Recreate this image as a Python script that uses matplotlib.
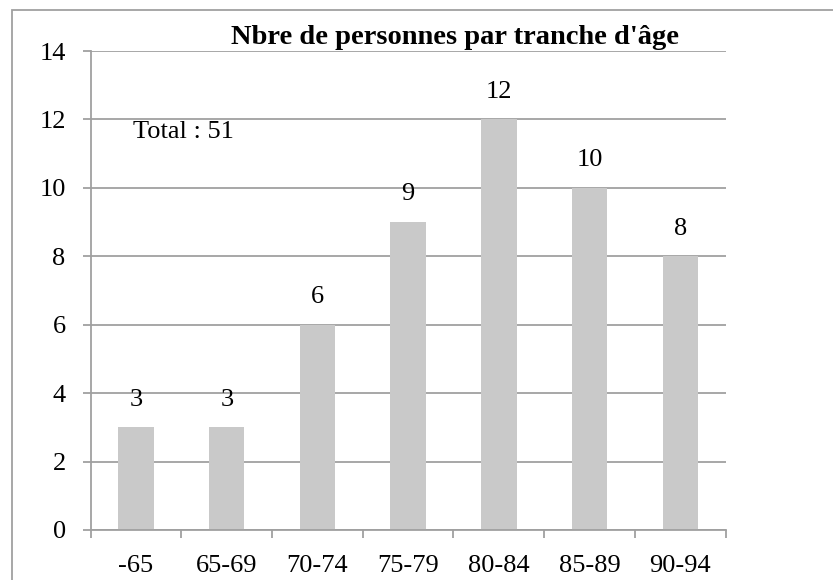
import numpy as np
import matplotlib.pyplot as plt
from matplotlib.patches import Rectangle

# data
tranches = ['-65', '65-69', '70-74', '75-79', '80-84', '85-89', '90-94']
personnes = [3, 3, 6, 9, 12, 10, 8]
titre = "Nbre de personnes par tranche d'âge"
total_txt = 'Total : 51'

plt.rcParams['font.family'] = ['Liberation Serif', 'DejaVu Serif']
grey = '#a0a0a0'
fs = 19

fig = plt.figure(figsize=(8.33, 5.8), dpi=100)
W, H = 833, 580
ax = fig.add_axes([90.7/W, 1 - 530/H, (725.6-90.7)/W, (530-51)/H])

x = np.arange(len(tranches))
ax.bar(x, personnes, width=0.39, color='#c9c9c9', zorder=2)
for xi, v in zip(x, personnes):
    ax.annotate(str(v), (xi, v), xytext=(0, 12), textcoords='offset points',
                ha='center', va='bottom', fontsize=fs)

ax.set_xlim(-0.5, len(tranches) - 0.5)
ax.set_ylim(0, 14)
ax.set_yticks(np.arange(0, 15, 2))
ax.yaxis.grid(True, color=grey, lw=1.3, zorder=0)
ax.set_axisbelow(True)

# x ticks sit between categories, labels at centres
ax.set_xticks(np.arange(-0.5, len(tranches)), minor=False)
ax.set_xticklabels([])
ax.set_xticks(x, minor=True)
ax.set_xticklabels(tranches, minor=True, fontsize=fs)
ax.tick_params(axis='x', which='minor', length=0, pad=18)
ax.tick_params(axis='x', which='major', length=6, width=1.3, color=grey, direction='out')
ax.tick_params(axis='y', length=6, width=1.3, color=grey, labelsize=fs, pad=12)

for s in ['top', 'right']:
    ax.spines[s].set_visible(False)
for s in ['left', 'bottom']:
    ax.spines[s].set_color(grey)
    ax.spines[s].set_linewidth(1.3)

fig.text(455/W, 1 - 37/H, titre, ha='center', va='center', fontsize=20.5, fontweight='bold')
fig.text(133/W, 1 - 132/H, total_txt, ha='left', va='center', fontsize=fs)

# outer frame of the chart
fig.patches.append(Rectangle((12/W, -0.1), 1.0, 1 - 10/H + 0.1, transform=fig.transFigure,
                             fill=False, edgecolor=grey, lw=1.3))

fig.savefig('out.png', dpi=100)
